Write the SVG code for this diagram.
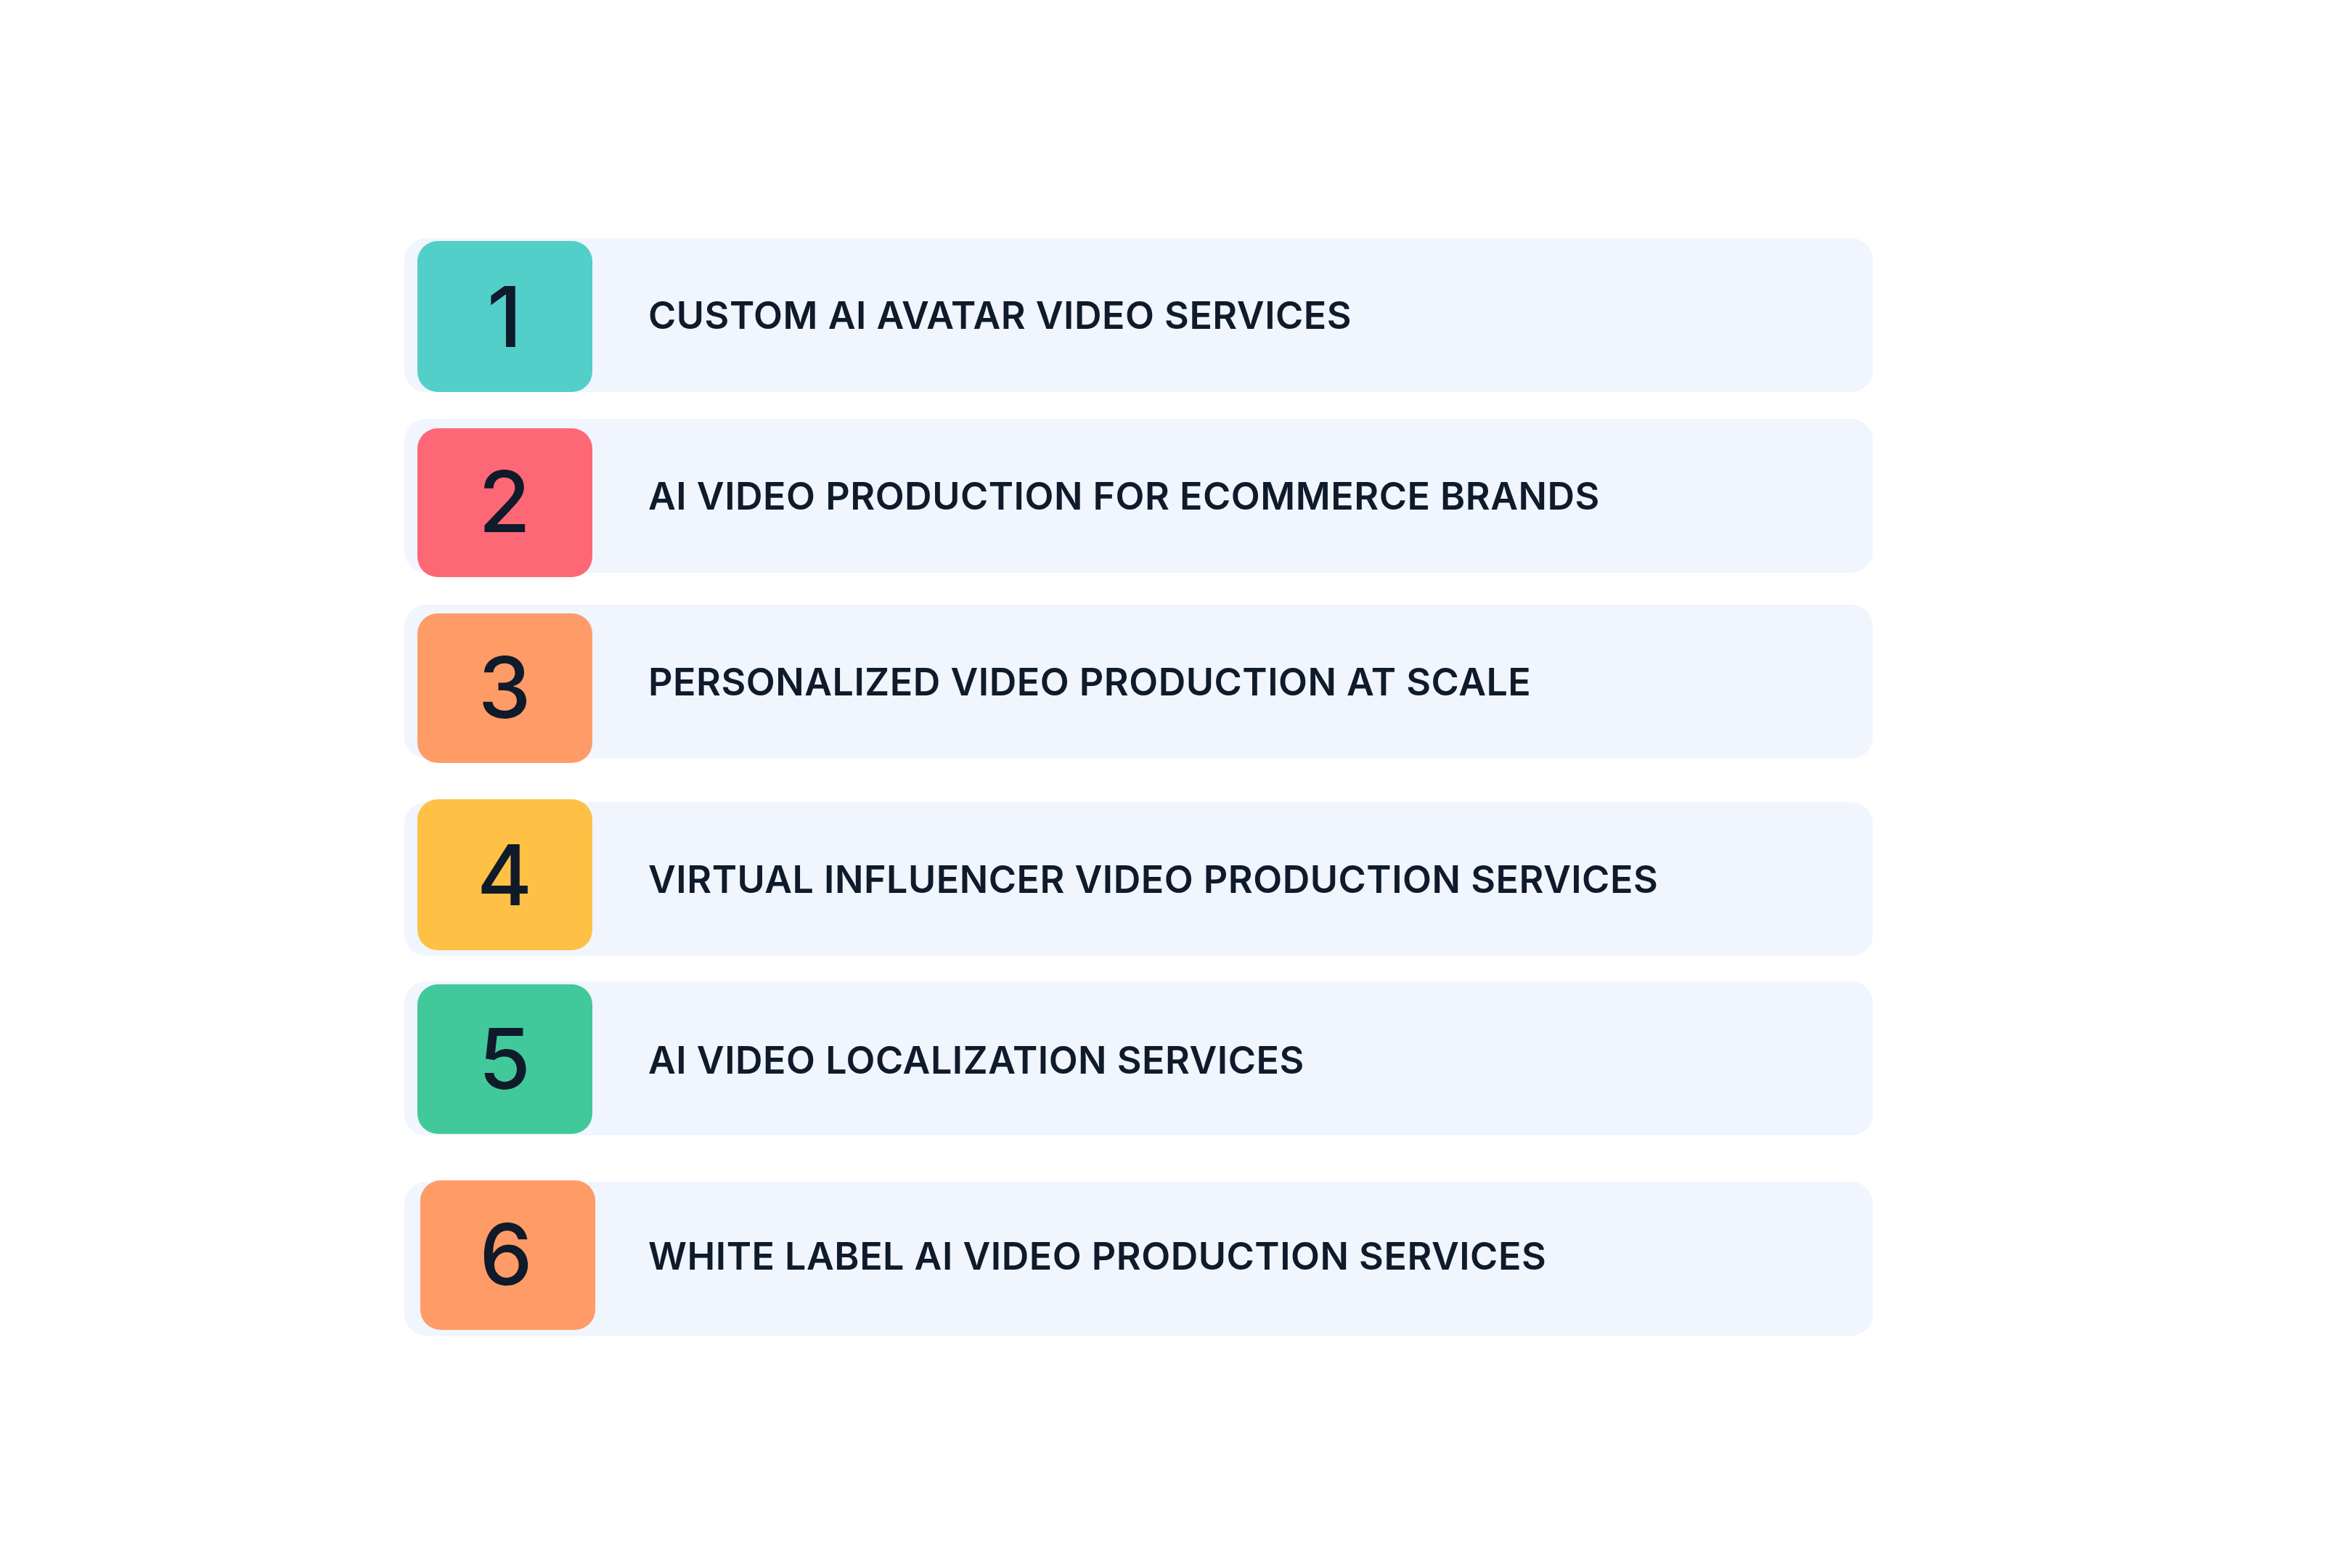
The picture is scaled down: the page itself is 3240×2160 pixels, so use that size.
<svg xmlns="http://www.w3.org/2000/svg" width="3240" height="2160" viewBox="0 0 3240 2160">
<style>
.bg{fill:#f0f5fe}
.num{font-family:Inter,"Liberation Sans",sans-serif;font-size:116px;font-weight:500;fill:#0f1a2a;text-anchor:middle}
.lbl{font-family:Inter,"Liberation Sans",sans-serif;font-size:52px;font-weight:600;fill:#0f1a2a;letter-spacing:0.5px}
</style>
<rect width="3240" height="2160" fill="#ffffff"/>
<g id="item1"><rect class="bg" x="557" y="328" width="2023" height="212" rx="30"/><rect x="575" y="332" width="241" height="208" rx="28" fill="#52cfc8"/><text class="num" x="695" y="478">1</text><text class="lbl" x="893" y="453">CUSTOM AI AVATAR VIDEO SERVICES</text></g>
<g id="item2"><rect class="bg" x="557" y="577" width="2023" height="212" rx="30"/><rect x="575" y="590" width="241" height="205" rx="28" fill="#fe6776"/><text class="num" x="695" y="733">2</text><text class="lbl" x="893" y="702">AI VIDEO PRODUCTION FOR ECOMMERCE BRANDS</text></g>
<g id="item3"><rect class="bg" x="557" y="833" width="2023" height="212" rx="30"/><rect x="575" y="845" width="241" height="206" rx="28" fill="#ff9b66"/><text class="num" x="695" y="989">3</text><text class="lbl" x="893" y="958">PERSONALIZED VIDEO PRODUCTION AT SCALE</text></g>
<g id="item4"><rect class="bg" x="557" y="1105" width="2023" height="212" rx="30"/><rect x="575" y="1101" width="241" height="208" rx="28" fill="#ffc145"/><text class="num" x="695" y="1247">4</text><text class="lbl" x="893" y="1230">VIRTUAL INFLUENCER VIDEO PRODUCTION SERVICES</text></g>
<g id="item5"><rect class="bg" x="557" y="1352" width="2023" height="212" rx="30"/><rect x="575" y="1356" width="241" height="206" rx="28" fill="#42c99b"/><text class="num" x="695" y="1500">5</text><text class="lbl" x="893" y="1479">AI VIDEO LOCALIZATION SERVICES</text></g>
<g id="item6"><rect class="bg" x="557" y="1628" width="2023" height="212" rx="30"/><rect x="579" y="1626" width="241" height="206" rx="28" fill="#ff9b66"/><text class="num" x="697" y="1770">6</text><text class="lbl" x="893" y="1749">WHITE LABEL AI VIDEO PRODUCTION SERVICES</text></g>
<g id="connectors"/>
</svg>
